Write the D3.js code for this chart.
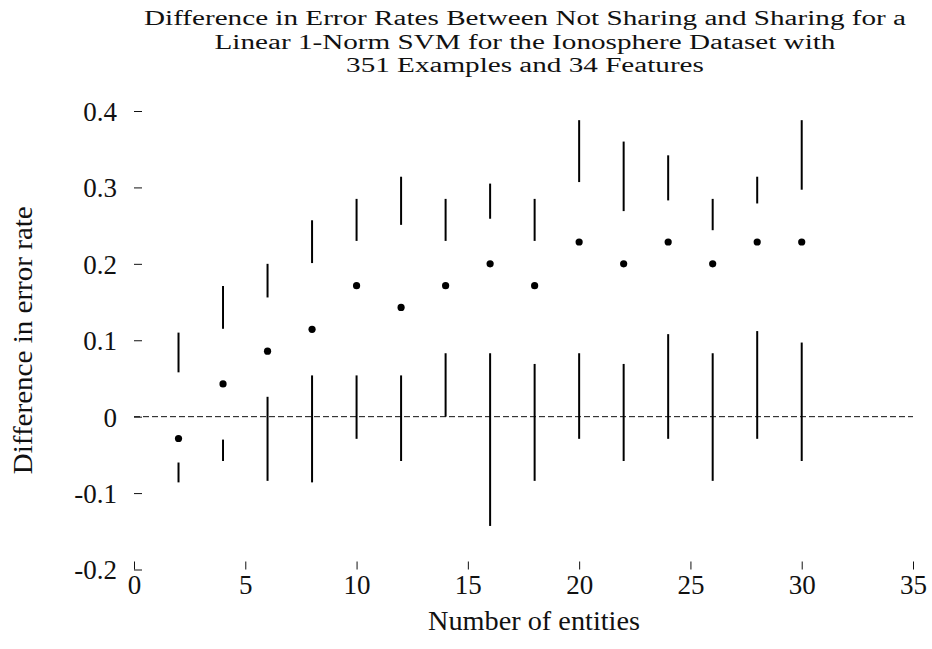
<!DOCTYPE html>
<html>
<head>
<meta charset="utf-8">
<script src="https://cdn.jsdelivr.net/npm/d3@7"></script>
<style>
  body { margin: 0; background: #fff; }
  svg text { font-family: 'Liberation Serif', 'DejaVu Serif', serif; fill: #111; }
</style>
</head>
<body>
<div id="chart"></div>
<script>
const entities = [2, 4, 6, 8, 10, 12, 14, 16, 18, 20, 22, 24, 26, 28, 30];
const medians = [-0.0286, 0.0429, 0.0857, 0.1143, 0.1714, 0.1429, 0.1714, 0.2, 0.1714, 0.2286, 0.2, 0.2286, 0.2, 0.2286, 0.2286];
const upperQuartile = [0.058, 0.115, 0.156, 0.201, 0.230, 0.251, 0.230, 0.259, 0.230, 0.307, 0.269, 0.283, 0.244, 0.279, 0.297];
const maxima = [0.110, 0.171, 0.200, 0.257, 0.285, 0.314, 0.285, 0.305, 0.285, 0.388, 0.360, 0.342, 0.285, 0.314, 0.388];
const lowerQuartile = [-0.060, -0.030, 0.026, 0.054, 0.054, 0.054, 0.083, 0.083, 0.069, 0.083, 0.069, 0.108, 0.083, 0.112, 0.097];
const minima = [-0.086, -0.058, -0.084, -0.086, -0.029, -0.058, 0.0, -0.143, -0.084, -0.029, -0.058, -0.029, -0.084, -0.029, -0.058];
const xTicks = [0, 5, 10, 15, 20, 25, 30, 35];
const yTicks = [-0.2, -0.1, 0, 0.1, 0.2, 0.3, 0.4];
const titleLines = [
  'Difference in Error Rates Between Not Sharing and Sharing for a',
  'Linear 1-Norm SVM for the Ionosphere Dataset with',
  '351 Examples and 34 Features',
];

const W = 932;
const H = 649;
const margin = { top: 111, right: 19, bottom: 79.5, left: 134 };
const width = W - margin.left - margin.right;
const height = H - margin.top - margin.bottom;
const fontSize = '27px';

const svg = d3.select('#chart').append('svg')
  .attr('width', W)
  .attr('height', H);

const g = svg.append('g')
  .attr('transform', `translate(${margin.left}, ${margin.top})`);

const xScale = d3.scaleLinear().domain([0, 35]).range([0, width]);
const yScale = d3.scaleLinear().domain([-0.2, 0.4]).range([height, 0]);

// axes: ticks only, drawn inward (gnuplot style, no border)
const axisY = d3.axisRight(yScale)
  .tickValues(yTicks)
  .tickSize(8)
  .tickFormat(d => d3.format('.1~f')(d).replace('\u2212', '-'));

g.append('g')
  .attr('class', 'y axis')
  .call(axisY)
  .call(a => a.select('.domain').remove())
  .call(a => a.selectAll('line').attr('stroke', '#111').attr('stroke-width', 1))
  .call(a => a.selectAll('text')
    .attr('x', -17)
    .attr('dy', '0.35em')
    .attr('text-anchor', 'end')
    .style('font-size', fontSize));

const axisX = d3.axisTop(xScale)
  .tickValues(xTicks)
  .tickSize(8);

g.append('g')
  .attr('class', 'x axis')
  .attr('transform', `translate(0, ${height})`)
  .call(axisX)
  .call(a => a.select('.domain').remove())
  .call(a => a.selectAll('line').attr('stroke', '#111').attr('stroke-width', 1))
  .call(a => a.selectAll('text')
    .attr('y', 24)
    .attr('dy', 0)
    .style('font-size', fontSize));

// zero reference line
g.append('line')
  .attr('x1', xScale(0))
  .attr('x2', xScale(35))
  .attr('y1', yScale(0))
  .attr('y2', yScale(0))
  .attr('stroke', '#111')
  .attr('stroke-width', 1)
  .attr('stroke-dasharray', '6,3');

const data = entities.map((e, i) => ({
  e,
  med: medians[i],
  q3: upperQuartile[i],
  max: maxima[i],
  q1: lowerQuartile[i],
  min: minima[i],
}));

g.selectAll('line.upper')
  .data(data)
  .enter().append('line')
  .attr('class', 'upper')
  .attr('x1', d => xScale(d.e))
  .attr('x2', d => xScale(d.e))
  .attr('y1', d => yScale(d.q3))
  .attr('y2', d => yScale(d.max))
  .attr('stroke', '#000')
  .attr('stroke-width', 2);

g.selectAll('line.lower')
  .data(data)
  .enter().append('line')
  .attr('class', 'lower')
  .attr('x1', d => xScale(d.e))
  .attr('x2', d => xScale(d.e))
  .attr('y1', d => yScale(d.min))
  .attr('y2', d => yScale(d.q1))
  .attr('stroke', '#000')
  .attr('stroke-width', 2);

g.selectAll('circle')
  .data(data)
  .enter().append('circle')
  .attr('cx', d => xScale(d.e))
  .attr('cy', d => yScale(d.med))
  .attr('r', 3.6)
  .attr('fill', '#000');

// title lines; the reference type runs wider than Liberation Serif, so stretch it
const titles = svg.append('g')
  .selectAll('text')
  .data(titleLines)
  .enter().append('text')
  .attr('x', 525)
  .attr('y', (d, i) => 25 + i * 23.5)
  .attr('text-anchor', 'middle')
  .style('font-size', '20.5px')
  .text(d => d);

const stretch = 762 / titles.node().getComputedTextLength();
titles.each(function () {
  const len = this.getComputedTextLength();
  d3.select(this)
    .attr('textLength', len * stretch)
    .attr('lengthAdjust', 'spacingAndGlyphs');
});

svg.append('text')
  .attr('x', 534)
  .attr('y', 630)
  .attr('text-anchor', 'middle')
  .style('font-size', fontSize)
  .attr('textLength', 212)
  .attr('lengthAdjust', 'spacingAndGlyphs')
  .text('Number of entities');

svg.append('text')
  .attr('transform', `translate(32, ${margin.top + height / 2}) rotate(-90)`)
  .attr('text-anchor', 'middle')
  .style('font-size', fontSize)
  .attr('textLength', 268)
  .attr('lengthAdjust', 'spacingAndGlyphs')
  .text('Difference in error rate');
</script>
</body>
</html>
